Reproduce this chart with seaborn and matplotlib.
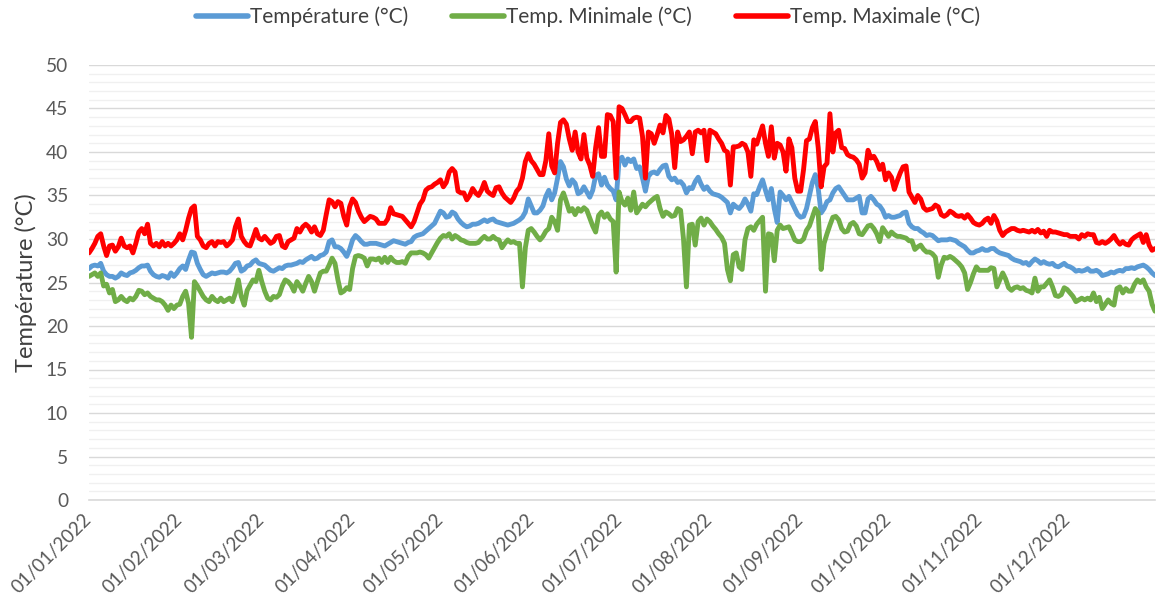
import numpy as np
import pandas as pd
import matplotlib
matplotlib.use("Agg")
import matplotlib.pyplot as plt
import matplotlib.dates as mdates
from matplotlib.ticker import MultipleLocator, FixedLocator
from matplotlib.lines import Line2D
import seaborn as sns

# Daily temperatures for 2022 (°C), one row per month
t_moy = [
    26.6, 26.9, 27.0, 26.9, 27.2, 26.3, 25.9, 25.7, 25.7, 25.5, 25.7, 26.1, 25.9, 25.8, 26.1, 26.2, 26.4, 26.7, 26.9, 26.9, 27.0, 26.3, 25.9, 25.7, 25.6, 25.8, 25.7, 25.5, 26.1, 25.7, 26.1,
    26.6, 26.9, 26.5, 27.6, 28.5, 28.4, 27.2, 26.5, 25.9, 25.7, 25.9, 26.1, 26.0, 26.1, 26.2, 26.2, 26.1, 26.3, 26.7, 27.2, 27.3, 26.3, 26.5, 26.9, 27.0, 27.4, 27.6, 27.2,
    27.1, 27.0, 26.7, 26.4, 26.3, 26.5, 26.7, 26.6, 26.9, 27.0, 27.0, 27.1, 27.2, 27.4, 27.3, 27.6, 27.8, 28.0, 27.7, 27.8, 28.1, 28.2, 28.5, 29.7, 29.9, 29.1, 29.1, 28.9, 28.5, 28.0, 28.8,
    29.9, 30.4, 30.1, 29.7, 29.4, 29.4, 29.5, 29.5, 29.5, 29.4, 29.3, 29.2, 29.4, 29.6, 29.8, 29.7, 29.6, 29.5, 29.4, 29.6, 29.7, 30.2, 30.4, 30.5, 30.6, 30.9, 31.2, 31.5, 31.8, 32.5,
    33.2, 33.0, 32.5, 32.6, 33.1, 32.9, 32.3, 31.9, 31.6, 31.4, 31.5, 31.7, 31.7, 31.8, 32.0, 32.2, 32.0, 32.2, 32.3, 32.0, 31.9, 31.8, 31.7, 31.6, 31.7, 31.8, 32.0, 32.2, 32.5, 33.1, 34.6,
    33.8, 33.0, 33.0, 33.3, 33.8, 34.9, 35.6, 34.5, 35.3, 37.0, 38.9, 38.3, 36.9, 36.1, 36.8, 36.4, 35.2, 35.4, 36.0, 35.4, 34.8, 35.6, 37.3, 37.5, 36.2, 37.1, 36.2, 35.8, 35.5, 34.5,
    39.1, 39.4, 38.5, 39.2, 38.9, 39.2, 38.1, 38.3, 37.0, 35.5, 37.2, 37.6, 37.7, 37.5, 38.0, 38.4, 38.5, 37.2, 36.8, 37.0, 36.5, 36.6, 36.2, 35.3, 35.9, 35.8, 36.6, 37.1, 36.3, 35.7, 36.0,
    35.5, 35.2, 35.1, 35.0, 34.8, 34.5, 34.2, 33.0, 34.0, 33.7, 33.5, 33.9, 34.6, 34.0, 33.2, 35.2, 35.1, 36.0, 36.8, 35.6, 34.5, 35.8, 33.5, 31.9, 35.4, 35.0, 34.5, 34.9, 34.2, 33.5, 32.8,
    32.5, 32.6, 33.5, 35.0, 36.5, 37.4, 35.8, 33.0, 33.5, 34.3, 34.5, 35.3, 35.8, 36.0, 35.5, 35.0, 34.5, 34.5, 34.5, 34.7, 34.9, 33.0, 33.0, 34.6, 34.9, 34.5, 34.0, 33.8, 33.3, 32.5,
    32.7, 32.5, 32.5, 32.6, 32.7, 33.0, 33.1, 31.8, 31.4, 31.2, 31.2, 30.9, 30.7, 30.4, 30.5, 30.4, 30.1, 29.8, 29.9, 29.9, 29.9, 30.0, 29.9, 29.8, 29.5, 29.3, 29.1, 28.7, 28.4, 28.4, 28.6,
    28.7, 28.9, 28.7, 28.7, 28.9, 28.9, 28.6, 28.4, 28.3, 28.2, 28.1, 27.8, 27.6, 27.5, 27.4, 27.2, 27.3, 27.0, 27.4, 27.7, 27.5, 27.2, 27.4, 27.2, 27.1, 27.2, 26.9, 26.8, 27.0, 27.2,
    26.9, 26.8, 26.6, 26.3, 26.4, 26.3, 26.4, 26.6, 26.3, 26.3, 26.4, 26.2, 25.8, 25.9, 26.0, 26.2, 26.1, 26.3, 26.4, 26.3, 26.6, 26.6, 26.7, 26.6, 26.8, 26.9, 27.0, 26.8, 26.5, 26.1, 25.8,
]

t_min = [
    25.7, 25.9, 26.1, 25.7, 26.1, 24.6, 24.8, 23.8, 24.2, 22.8, 23.0, 23.4, 23.0, 22.8, 23.2, 23.0, 23.4, 24.1, 24.0, 23.6, 23.8, 23.4, 23.2, 23.0, 23.0, 22.8, 22.4, 21.8, 22.4, 22.0, 22.4,
    22.5, 23.4, 24.0, 22.6, 18.7, 25.1, 24.6, 24.0, 23.4, 23.0, 22.8, 23.4, 23.0, 22.8, 23.2, 22.8, 23.0, 23.2, 22.8, 23.8, 25.3, 23.4, 22.4, 24.1, 24.7, 25.3, 25.1, 26.4,
    25.1, 24.0, 23.2, 23.0, 23.4, 23.3, 23.6, 24.6, 25.3, 25.1, 24.7, 24.0, 25.1, 24.6, 24.0, 24.9, 25.7, 25.1, 24.0, 25.1, 26.1, 26.3, 26.3, 27.0, 27.8, 27.2, 25.3, 23.8, 24.0, 24.4, 24.2,
    26.6, 28.0, 28.1, 28.0, 27.8, 26.9, 27.7, 27.7, 27.6, 27.8, 27.3, 27.9, 27.3, 27.9, 27.5, 27.3, 27.3, 27.4, 27.2, 28.0, 28.4, 28.4, 28.4, 28.5, 28.4, 28.2, 27.8, 28.4, 29.0, 29.6,
    30.1, 30.4, 30.3, 30.6, 30.0, 30.4, 30.2, 29.9, 29.8, 29.6, 29.5, 29.5, 29.5, 29.6, 30.0, 30.3, 30.0, 30.0, 30.3, 30.0, 29.9, 29.0, 29.5, 29.9, 29.6, 29.7, 29.5, 29.5, 24.5, 29.0, 31.0,
    31.2, 30.8, 30.3, 29.9, 30.3, 30.9, 31.2, 32.5, 32.0, 31.0, 34.5, 35.3, 34.3, 33.2, 33.5, 32.8, 33.5, 33.2, 33.6, 33.3, 32.4, 31.5, 30.8, 32.7, 33.1, 32.5, 32.9, 32.3, 32.0, 26.2,
    35.4, 34.3, 33.9, 34.7, 33.3, 35.4, 33.0, 33.5, 34.0, 33.7, 34.1, 34.4, 34.7, 34.9, 33.5, 32.6, 33.1, 32.9, 32.6, 32.7, 33.5, 33.3, 30.0, 24.5, 31.6, 31.7, 29.3, 32.0, 32.4, 31.6, 32.3,
    32.0, 31.5, 31.1, 30.6, 30.2, 29.5, 26.5, 25.2, 28.2, 28.4, 26.8, 26.5, 29.9, 31.2, 31.4, 31.0, 31.7, 32.1, 32.5, 24.0, 30.6, 30.5, 27.5, 31.0, 31.6, 31.2, 31.3, 31.4, 30.7, 29.9, 29.7,
    29.7, 30.0, 31.0, 31.5, 32.5, 33.5, 33.0, 26.5, 29.5, 30.6, 31.6, 32.5, 32.6, 32.2, 31.2, 30.8, 30.9, 31.7, 31.9, 31.5, 30.6, 30.5, 31.0, 31.5, 31.6, 31.2, 30.6, 29.7, 31.3, 30.8,
    30.3, 30.8, 30.5, 30.3, 30.3, 30.2, 30.1, 29.8, 29.8, 28.8, 29.1, 29.3, 28.8, 28.5, 28.5, 28.3, 27.9, 25.6, 27.0, 27.9, 27.8, 28.0, 27.8, 27.5, 27.2, 26.8, 26.1, 24.2, 25.0, 26.0, 26.8,
    26.4, 26.4, 26.4, 26.4, 26.7, 26.6, 24.5, 25.3, 26.1, 25.4, 24.4, 24.1, 24.4, 24.5, 24.3, 24.4, 24.1, 24.0, 23.8, 25.5, 24.0, 24.5, 24.5, 24.9, 25.3, 24.5, 23.5, 23.4, 23.6, 24.4,
    24.2, 23.8, 23.4, 22.8, 23.0, 23.2, 23.0, 23.2, 23.0, 23.8, 22.8, 23.3, 22.0, 22.5, 23.0, 22.6, 22.4, 24.3, 24.5, 23.8, 24.3, 24.0, 24.0, 24.8, 25.3, 25.0, 25.3, 24.5, 24.0, 22.5, 21.7,
]

t_max = [
    28.4, 28.9, 29.5, 30.3, 30.6, 29.2, 28.1, 29.2, 29.3, 28.6, 29.1, 30.1, 29.2, 29.0, 29.2, 28.4, 29.5, 30.8, 31.2, 30.6, 31.7, 29.5, 29.2, 29.5, 29.1, 29.7, 29.2, 29.5, 29.2, 29.5, 29.9,
    30.6, 29.9, 31.0, 32.4, 33.5, 33.8, 30.3, 29.9, 29.2, 29.0, 29.5, 29.7, 29.2, 29.7, 29.6, 29.7, 29.2, 29.5, 29.9, 31.4, 32.3, 30.3, 29.7, 29.3, 29.2, 30.1, 31.1, 30.1,
    29.9, 30.3, 29.9, 29.5, 29.7, 30.3, 30.4, 29.2, 29.0, 29.7, 29.9, 30.1, 31.2, 30.8, 31.4, 31.7, 31.4, 30.8, 31.4, 30.6, 30.4, 31.0, 32.8, 34.5, 34.3, 33.7, 34.3, 34.1, 32.6, 31.6, 33.7,
    34.6, 34.2, 33.2, 32.5, 32.0, 32.3, 32.6, 32.5, 32.3, 31.8, 31.8, 31.8, 32.3, 33.6, 32.9, 32.8, 32.7, 32.6, 32.2, 31.8, 31.4, 32.0, 33.0, 34.0, 34.5, 35.6, 35.9, 36.0, 36.3, 36.5,
    36.8, 36.0, 36.5, 37.7, 38.1, 37.7, 35.5, 35.3, 35.3, 34.5, 35.0, 35.8, 35.3, 35.0, 35.6, 36.5, 35.5, 35.2, 35.0, 35.9, 36.0, 35.3, 34.8, 34.5, 34.2, 34.7, 35.5, 35.9, 37.0, 38.9, 39.8,
    39.0, 38.6, 38.0, 37.4, 37.4, 39.0, 42.1, 38.4, 37.6, 41.0, 43.4, 43.7, 43.2, 41.5, 40.2, 42.3, 40.0, 39.2, 42.0, 39.3, 38.5, 37.2, 40.5, 42.8, 39.5, 39.5, 44.3, 44.2, 43.5, 37.0,
    45.2, 45.0, 44.3, 43.5, 43.5, 43.9, 44.0, 43.9, 41.8, 37.0, 42.3, 42.1, 41.0, 42.0, 43.1, 42.2, 44.2, 43.8, 42.0, 38.2, 42.3, 41.2, 41.4, 41.8, 42.3, 39.8, 42.3, 42.5, 42.2, 42.5, 39.0,
    42.5, 42.3, 42.1, 41.5, 41.0, 40.2, 40.0, 36.2, 40.6, 40.6, 40.7, 41.0, 40.8, 40.0, 37.2, 41.4, 40.9, 42.0, 43.0, 41.0, 39.5, 42.9, 39.3, 41.0, 40.8, 40.0, 37.8, 41.5, 40.5, 37.0, 35.5,
    35.5, 38.0, 41.3, 41.5, 42.8, 43.5, 40.5, 36.0, 38.3, 38.7, 44.4, 40.0, 42.2, 42.5, 40.5, 40.4, 39.7, 39.5, 39.4, 39.1, 38.6, 37.0, 37.6, 40.2, 39.3, 39.5, 38.9, 38.0, 38.6, 36.8,
    37.6, 37.1, 35.7, 36.7, 37.6, 38.3, 38.4, 35.4, 34.8, 34.2, 35.0, 34.6, 33.6, 33.3, 33.4, 33.5, 33.9, 33.7, 32.8, 32.6, 32.8, 33.2, 33.0, 32.7, 32.6, 32.7, 32.4, 32.8, 32.4, 31.9, 31.7,
    31.6, 31.8, 32.2, 32.4, 31.8, 32.7, 32.1, 31.0, 30.4, 30.8, 31.0, 31.2, 31.2, 31.0, 30.9, 31.0, 30.9, 30.8, 31.0, 30.8, 31.1, 30.7, 30.9, 30.3, 31.0, 30.8, 30.8, 30.7, 30.6, 30.5,
    30.5, 30.3, 30.3, 30.3, 30.0, 30.5, 30.3, 30.6, 30.5, 30.5, 29.6, 29.5, 29.7, 29.5, 29.7, 30.0, 30.4, 29.8, 29.4, 29.7, 29.4, 29.3, 29.9, 30.2, 30.4, 30.6, 29.6, 30.5, 29.3, 28.7, 28.9,
]

series_names = ["Température (°C)", "Temp. Minimale (°C)", "Temp. Maximale (°C)"]
series_colors = ["#5B9BD5", "#70AD47", "#FF0000"]
y_ticks = list(range(0, 51, 5))

dates = pd.date_range("2022-01-01", "2022-12-31", freq="D")
month_starts = pd.date_range("2022-01-01", "2022-12-01", freq="MS")

df = pd.DataFrame({
    "Date": np.tile(dates, 3),
    "Série": np.repeat(series_names, len(dates)),
    "Valeur": np.concatenate([t_moy, t_min, t_max]),
})

sns.set_theme(style="white")
plt.rcParams["font.family"] = ["Lato", "DejaVu Sans"]

W, H = 1157, 609
fig = plt.figure(figsize=(W / 100, H / 100), dpi=100)
ax = fig.add_axes([89 / W, 1 - 500 / H, (1155 - 89) / W, (500 - 65) / H])

sns.lineplot(data=df, x="Date", y="Valeur", hue="Série", hue_order=series_names,
             palette=series_colors, linewidth=3.5, legend=False, ax=ax)

# y axis: labelled every 5 °C, light lines every degree
ax.set_ylim(0, 50)
ax.yaxis.set_major_locator(FixedLocator(y_ticks))
ax.yaxis.set_minor_locator(MultipleLocator(1))
ax.grid(which="major", axis="y", color="#D9D9D9", linewidth=1.0, zorder=0)
ax.grid(which="minor", axis="y", color="#F0F0F0", linewidth=1.0, zorder=0)
ax.set_axisbelow(True)
ax.tick_params(axis="y", which="both", length=0, pad=15, labelsize=13.8, labelcolor="#595959")

# x axis: first day of each month
ax.set_xlim(dates[0], dates[-1])
ax.set_xticks(month_starts)
ax.xaxis.set_minor_locator(FixedLocator([mdates.date2num(dates[-1])]))
ax.xaxis.set_major_formatter(mdates.DateFormatter("%d/%m/%Y"))
ax.tick_params(axis="x", which="both", length=5, width=1, color="#D9D9D9",
               pad=7, labelsize=13.5, labelcolor="#595959")
for lbl in ax.get_xticklabels():
    lbl.set_rotation(45)
    lbl.set_ha("right")
    lbl.set_va("center")
    lbl.set_rotation_mode("anchor")

for side in ["top", "right", "left"]:
    ax.spines[side].set_visible(False)
ax.spines["bottom"].set_color("#D9D9D9")
ax.spines["bottom"].set_linewidth(1.2)

ax.set_xlabel("")
ax.set_ylabel("Température (°C)", fontsize=17, color="#404040")
ax.yaxis.set_label_coords(-52 / 1066, 0.5)

handles = [Line2D([0], [0], color=c, linewidth=4.0) for c in series_colors]
fig.legend(handles, series_names, loc="center", bbox_to_anchor=(588 / W, 1 - 17 / H),
           ncol=3, frameon=False, fontsize=15, handlelength=2.5, handletextpad=0.1,
           columnspacing=2.1, labelcolor="#404040")

fig.savefig("out.png", dpi=100)
